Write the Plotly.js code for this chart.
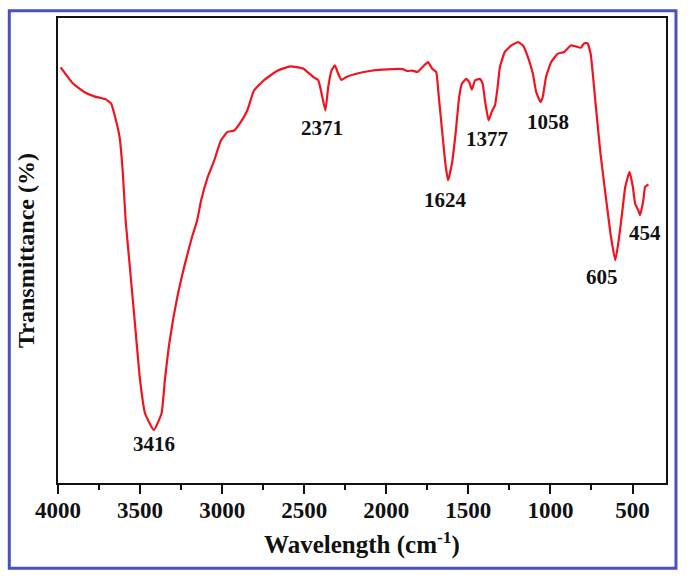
<!DOCTYPE html>
<html>
<head>
<meta charset="utf-8">
<script src="https://cdn.plot.ly/plotly-3.0.1.min.js"></script>
<style>
  html, body { margin: 0; padding: 0; background: #fff; }
  #plot { width: 691px; height: 580px; }
</style>
</head>
<body>
<div id="plot"></div>
<script>
// FTIR spectrum, values (wavenumber in cm-1, transmittance in arbitrary %)
var wavenumber = [3984, 3908, 3841, 3775, 3709, 3676, 3647, 3625, 3606, 3588, 3566, 3533, 3500, 3470, 3416,
  3369, 3349, 3319, 3277, 3229, 3186, 3152, 3128, 3088, 3048, 3007, 2967, 2927, 2887, 2847, 2806, 2746,
  2666, 2585, 2505, 2444, 2414, 2394, 2371, 2354, 2334, 2313, 2293, 2274, 2243, 2183, 2102, 2022, 1901,
  1871, 1841, 1811, 1781, 1746, 1720, 1696, 1680, 1660, 1640, 1624, 1600, 1576, 1556, 1539, 1513, 1495,
  1479, 1459, 1429, 1413, 1399, 1377, 1358, 1338, 1322, 1308, 1278, 1238, 1197, 1167, 1137, 1107, 1087,
  1060, 1047, 1027, 996, 956, 916, 876, 846, 815, 796, 775, 755, 725, 695, 665, 634, 605, 584, 564, 544,
  518, 498, 484, 464, 454, 434, 423, 403];
var transmittance = [89.4, 85.9, 84.1, 83.1, 82.5, 81.6, 78.0, 74.4, 67.2, 56.5, 47.9, 35.0, 22.1, 15.0, 11.4,
  15.0, 22.1, 30.7, 39.3, 46.8, 52.6, 56.5, 60.8, 65.8, 69.4, 73.7, 75.5, 75.8, 77.6, 80.1, 84.4, 86.6,
  88.6, 89.6, 89.1, 87.3, 86.6, 83.7, 80.1, 85.1, 88.7, 89.8, 88.0, 86.7, 87.3, 88.0, 88.6, 88.9, 89.0,
  88.6, 88.7, 88.4, 89.4, 90.5, 89.1, 88.4, 83.0, 75.8, 68.7, 65.1, 68.7, 75.8, 83.0, 85.9, 86.9, 86.2,
  84.6, 86.6, 86.9, 85.9, 82.3, 78.0, 79.8, 81.2, 85.1, 89.4, 92.7, 94.1, 94.8, 94.1, 91.6, 88.0, 84.1,
  81.9, 83.0, 87.3, 90.5, 92.3, 92.7, 94.1, 93.9, 93.6, 94.5, 94.6, 92.3, 81.6, 70.8, 62.2, 53.6, 47.9,
  52.2, 57.9, 63.7, 66.9, 63.7, 60.1, 58.6, 57.6, 60.8, 63.7, 64.2];

// peak labels and where their text sits
var peakLabels = ['3416', '2371', '1624', '1377', '1058', '605', '454'];
var peakLabelX = [3416, 2390, 1642, 1389, 1015, 685, 423];
var peakLabelY = [8.4, 76.3, 60.8, 73.9, 77.6, 44.3, 53.7];

var xTicks = [4000, 3500, 3000, 2500, 2000, 1500, 1000, 500];

var serif = 'Liberation Serif, Times New Roman, serif';

var trace = {
  x: wavenumber,
  y: transmittance,
  type: 'scatter',
  mode: 'lines',
  line: { color: '#f0141e', width: 2.2, shape: 'spline', smoothing: 0.4 },
  hoverinfo: 'x+y'
};

var annotations = peakLabels.map(function (t, i) {
  return {
    x: peakLabelX[i], y: peakLabelY[i], xref: 'x', yref: 'y',
    text: '<b>' + t + '</b>', showarrow: false,
    font: { family: serif, size: 21, color: '#111' }
  };
});

var layout = {
  width: 691,
  height: 580,
  margin: { l: 58, r: 25, t: 18, b: 97 },
  paper_bgcolor: '#fff',
  plot_bgcolor: '#fff',
  showlegend: false,
  font: { family: serif, color: '#111' },
  xaxis: {
    range: [4000, 296],
    tickvals: xTicks,
    ticktext: xTicks.map(function (v) { return '<b>' + v + '</b>'; }),
    ticks: 'outside', ticklen: 9, tickwidth: 2, tickcolor: '#111',
    ticklabelstandoff: -4,
    minor: { ticks: 'outside', ticklen: 5, tickwidth: 2, tickcolor: '#111', tick0: 0, dtick: 250 },
    tickfont: { family: serif, size: 23, color: '#111' },
    showline: true, linewidth: 2, linecolor: '#111', mirror: true,
    showgrid: false, zeroline: false,
    title: { text: '<b>Wavelength (cm<sup>-1</sup>)</b>', font: { family: serif, size: 25, color: '#111' }, standoff: 14 }
  },
  yaxis: {
    range: [0, 100],
    showticklabels: false, ticks: '',
    showline: true, linewidth: 2, linecolor: '#111', mirror: true,
    showgrid: false, zeroline: false,
    title: { text: '<b>Transmittance (%)</b>', font: { family: serif, size: 24, color: '#111' }, standoff: 15 }
  },
  annotations: annotations,
  shapes: [{
    type: 'rect', xref: 'paper', yref: 'paper',
    x0: -0.0801, x1: 1.0164, y0: -0.1834, y1: 1.0157,
    line: { color: '#4a50bf', width: 3 }
  }]
};

Plotly.newPlot('plot', [trace], layout, { displayModeBar: false, staticPlot: true });
</script>
</body>
</html>
